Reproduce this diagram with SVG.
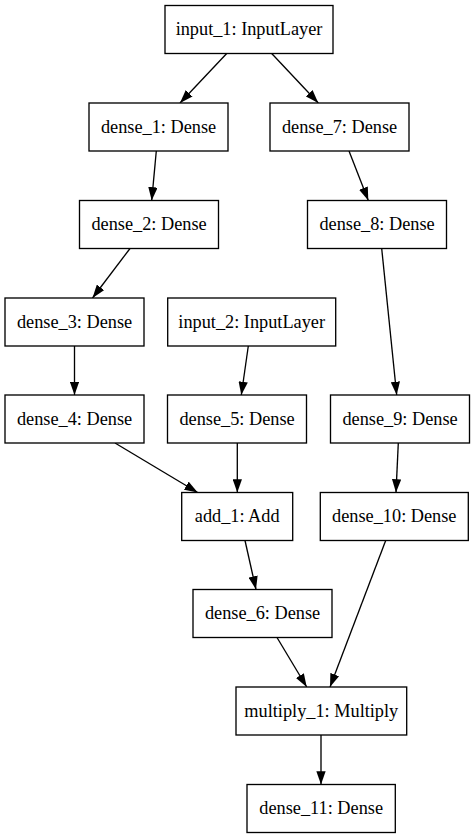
<svg xmlns="http://www.w3.org/2000/svg" width="475" height="839" viewBox="0 0 475 839">
<style>
.n rect{fill:#fff;stroke:#000;stroke-width:1.33}
.n text{font-family:"Liberation Serif","Times New Roman",serif;font-size:18.3px;fill:#000;text-anchor:middle}
.e path{fill:none;stroke:#000;stroke-width:1.33;marker-end:url(#ah)}
</style>
<defs>
<marker id="ah" viewBox="0 0 10 7" refX="10" refY="3.5" markerWidth="13.33" markerHeight="9.33" markerUnits="userSpaceOnUse" orient="auto">
<path d="M0,0 L10,3.5 L0,7 Z" fill="#000" stroke="none"/>
</marker>
</defs>
<rect width="475" height="839" fill="#fff"/>
<g id="edges" class="e">
<path d="M226.7,53.5 L180,103"/>
<path d="M271.7,53.5 L318.3,103"/>
<path d="M156.3,151 L151.7,200.5"/>
<path d="M349,151 L368.3,200.5"/>
<path d="M130,248.5 L92.5,298"/>
<path d="M381.7,248.5 L396.7,395"/>
<path d="M74.5,346 L74.5,395"/>
<path d="M248.3,346 L241.3,395"/>
<path d="M115,443 L197.7,492.5"/>
<path d="M237.3,443 L237.3,492.5"/>
<path d="M398.3,443 L396,492.5"/>
<path d="M245,540.5 L256,589.5"/>
<path d="M385.7,540.5 L330,687"/>
<path d="M277,637.5 L306.7,687"/>
<path d="M321,735 L321,784.5"/>
</g>
<g id="input_1" class="n"><rect x="165" y="5.5" width="168" height="48"/><text x="249" y="35">input_1: InputLayer</text></g>
<g id="dense_1" class="n"><rect x="89" y="103" width="139" height="48"/><text x="158.5" y="132.5">dense_1: Dense</text></g>
<g id="dense_7" class="n"><rect x="270" y="103" width="139" height="48"/><text x="339.5" y="132.5">dense_7: Dense</text></g>
<g id="dense_2" class="n"><rect x="79.5" y="200.5" width="139" height="48"/><text x="149" y="230">dense_2: Dense</text></g>
<g id="dense_8" class="n"><rect x="307.5" y="200.5" width="139" height="48"/><text x="377" y="230">dense_8: Dense</text></g>
<g id="dense_3" class="n"><rect x="5" y="298" width="139" height="48"/><text x="74.5" y="327.5">dense_3: Dense</text></g>
<g id="input_2" class="n"><rect x="167.7" y="298" width="168" height="48"/><text x="251.7" y="327.5">input_2: InputLayer</text></g>
<g id="dense_4" class="n"><rect x="5" y="395" width="139" height="48"/><text x="74.5" y="424.5">dense_4: Dense</text></g>
<g id="dense_5" class="n"><rect x="167.5" y="395" width="139" height="48"/><text x="237" y="424.5">dense_5: Dense</text></g>
<g id="dense_9" class="n"><rect x="330.5" y="395" width="139" height="48"/><text x="400" y="424.5">dense_9: Dense</text></g>
<g id="add_1" class="n"><rect x="181.7" y="492.5" width="111" height="48"/><text x="237.2" y="522">add_1: Add</text></g>
<g id="dense_10" class="n"><rect x="320.3" y="492.5" width="148" height="48"/><text x="394.3" y="522">dense_10: Dense</text></g>
<g id="dense_6" class="n"><rect x="193" y="589.5" width="139" height="48"/><text x="262.5" y="619">dense_6: Dense</text></g>
<g id="multiply_1" class="n"><rect x="236" y="687" width="170.7" height="48"/><text x="321.3" y="716.5">multiply_1: Multiply</text></g>
<g id="dense_11" class="n"><rect x="247" y="784.5" width="148.3" height="48"/><text x="321.2" y="814">dense_11: Dense</text></g>
</svg>
